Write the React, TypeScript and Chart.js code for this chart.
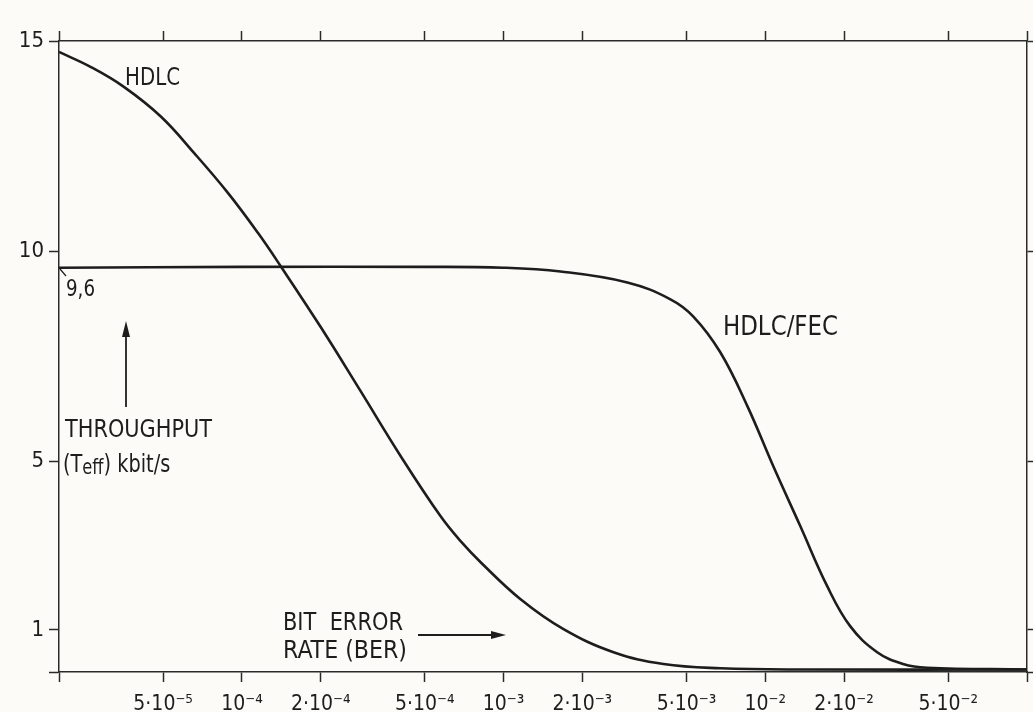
import React, { useEffect, useRef } from "react";
import { Chart, registerables } from "chart.js";

Chart.register(...registerables);

// ---- data ----
const xTickValues = [2e-5, 5e-5, 1e-4, 2e-4, 5e-4, 1e-3, 2e-3, 5e-3, 1e-2, 2e-2, 5e-2, 1e-1];
const xTickLabels = ["", "5·10⁻⁵", "10⁻⁴", "2·10⁻⁴", "5·10⁻⁴", "10⁻³", "2·10⁻³", "5·10⁻³", "10⁻²", "2·10⁻²", "5·10⁻²", ""];
const yTickValues = [0, 1, 5, 10, 15];
const yTickLabels = ["", "1", "5", "10", "15"];

const hdlcBer = [2.0e-5, 2.65e-5, 3.54e-5, 4.91e-5, 6.56e-5, 8.84e-5, 1.151e-4, 1.409e-4, 2.0e-4, 2.846e-4, 4.045e-4, 5.746e-4, 6.85e-4, 8.17e-4, 1.161e-3, 1.694e-3, 2.63e-3, 4.08e-3, 6.73e-3, 1.36e-2, 1e-1];
const hdlcThroughput = [14.74, 14.38, 13.91, 13.2, 12.34, 11.39, 10.44, 9.64, 8.2, 6.67, 5.13, 3.7, 3.11, 2.61, 1.73, 1.02, 0.47, 0.19, 0.09, 0.06, 0.06];

const fecBer = [2e-5, 1e-4, 5e-4, 1e-3, 1.65e-3, 2.97e-3, 4.34e-3, 5.31e-3, 6.73e-3, 8.54e-3, 1.073e-2, 1.36e-2, 1.724e-2, 2.11e-2, 2.676e-2, 3.36e-2, 4.15e-2, 1e-1];
const fecThroughput = [9.61, 9.63, 9.63, 9.61, 9.52, 9.26, 8.86, 8.45, 7.6, 6.32, 4.89, 3.47, 2.04, 1.09, 0.47, 0.19, 0.1, 0.06];

const INK = "#1d1d1d";
const AXIS = "#2a2a2a";
const BG = "#fcfbf8";
const FONT = "'DejaVu Sans Condensed', 'DejaVu Sans', sans-serif";

type Part = { t: string; size: number; dy?: number };

function drawRun(ctx: CanvasRenderingContext2D, parts: Part[], x: number, baseline: number, sx: number) {
  ctx.save();
  ctx.translate(x, baseline);
  ctx.scale(sx, 1);
  ctx.textBaseline = "alphabetic";
  ctx.textAlign = "left";
  let cx = 0;
  for (const p of parts) {
    ctx.font = `${p.size}px ${FONT}`;
    ctx.fillText(p.t, cx, p.dy || 0);
    cx += ctx.measureText(p.t).width;
  }
  ctx.restore();
}

function fitText(ctx: CanvasRenderingContext2D, s: string, x: number, baseline: number, size: number, width: number) {
  ctx.save();
  ctx.font = `${size}px ${FONT}`;
  const w = ctx.measureText(s).width;
  ctx.restore();
  drawRun(ctx, [{ t: s, size }], x, baseline, width / w);
}

const annotationPlugin = {
  id: "annotationsPlugin",
  beforeDraw(chart: any) {
    const ctx = chart.ctx as CanvasRenderingContext2D;
    ctx.save();
    ctx.fillStyle = BG;
    ctx.fillRect(0, 0, chart.width, chart.height);
    ctx.restore();
  },
  afterDraw(chart: any) {
    const ctx = chart.ctx as CanvasRenderingContext2D;
    ctx.save();
    ctx.fillStyle = INK;
    ctx.strokeStyle = INK;

    fitText(ctx, "HDLC", 125, 85, 24, 55);
    fitText(ctx, "HDLC/FEC", 723, 335, 26, 115);
    fitText(ctx, "9,6", 66, 296, 23, 29);

    // leader for 9,6
    ctx.lineWidth = 1.2;
    ctx.beginPath();
    ctx.moveTo(60, 269);
    ctx.lineTo(66, 276);
    ctx.stroke();

    // vertical arrow
    ctx.lineWidth = 1.8;
    ctx.beginPath();
    ctx.moveTo(126, 407);
    ctx.lineTo(126, 332);
    ctx.stroke();
    ctx.beginPath();
    ctx.moveTo(126, 321);
    ctx.lineTo(122, 337);
    ctx.lineTo(130, 337);
    ctx.closePath();
    ctx.fill();

    fitText(ctx, "THROUGHPUT", 65, 437, 25, 147);
    drawRun(
      ctx,
      [
        { t: "(T", size: 25 },
        { t: "eff", size: 21, dy: 2 },
        { t: ") kbit/s", size: 25 },
      ],
      63,
      472,
      0.86
    );

    fitText(ctx, "BIT  ERROR", 283, 630, 24, 120);
    fitText(ctx, "RATE (BER)", 283, 658, 24, 124);

    // horizontal arrow
    ctx.lineWidth = 1.8;
    ctx.beginPath();
    ctx.moveTo(418, 635);
    ctx.lineTo(494, 635);
    ctx.stroke();
    ctx.beginPath();
    ctx.moveTo(506, 635);
    ctx.lineTo(491, 631);
    ctx.lineTo(491, 639);
    ctx.closePath();
    ctx.fill();

    ctx.restore();
  },
};

function xAxis(position: "top" | "bottom", showLabels: boolean, size: number) {
  return {
    type: "logarithmic" as const,
    position,
    min: 2e-5,
    max: 1e-1,
    afterBuildTicks: (s: any) => {
      s.ticks = xTickValues.map((v) => ({ value: v }));
    },
    afterFit: (s: any) => {
      s.height = size;
      s.paddingLeft = 0;
      s.paddingRight = 0;
    },
    ticks: {
      display: showLabels,
      autoSkip: false,
      maxRotation: 0,
      minRotation: 0,
      padding: 10,
      color: INK,
      font: { family: FONT, size: 21 },
      callback: (_v: any, i: number) => xTickLabels[i],
    },
    grid: { drawOnChartArea: false, drawTicks: true, tickLength: 10, color: AXIS, tickWidth: 1.5 },
    border: { display: true, color: AXIS, width: 1.5 },
  };
}

function yAxis(position: "left" | "right", showLabels: boolean, size: number, tl: number) {
  return {
    type: "linear" as const,
    position,
    min: 0,
    max: 15,
    afterBuildTicks: (s: any) => {
      s.ticks = yTickValues.map((v) => ({ value: v }));
    },
    afterFit: (s: any) => {
      s.width = size;
      s.paddingTop = 0;
      s.paddingBottom = 0;
    },
    ticks: {
      display: showLabels,
      padding: 5,
      color: INK,
      font: { family: FONT, size: 22 },
      callback: (_v: any, i: number) => yTickLabels[i],
    },
    grid: { drawOnChartArea: false, drawTicks: true, tickLength: tl, color: AXIS, tickWidth: 1.5 },
    border: { display: true, color: AXIS, width: 1.5 },
  };
}

export default function App() {
  const canvasRef = useRef<HTMLCanvasElement | null>(null);

  useEffect(() => {
    if (!canvasRef.current) return;
    const lineStyle = {
      showLine: true,
      borderColor: INK,
      borderWidth: 2.6,
      pointRadius: 0,
      tension: 0.4,
      xAxisID: "x",
      yAxisID: "y",
    };
    const chart = new Chart(canvasRef.current, {
      type: "scatter",
      data: {
        datasets: [
          {
            label: "HDLC",
            data: hdlcBer.map((x, i) => ({ x, y: hdlcThroughput[i] })),
            ...lineStyle,
          },
          {
            label: "HDLC/FEC",
            data: fecBer.map((x, i) => ({ x, y: fecThroughput[i] })),
            ...lineStyle,
          },
        ],
      },
      options: {
        animation: false,
        responsive: true,
        maintainAspectRatio: false,
        layout: { padding: 0 },
        plugins: { legend: { display: false }, tooltip: { enabled: false }, title: { display: false } },
        scales: {
          x: xAxis("bottom", true, 40),
          xTop: xAxis("top", false, 41),
          y: yAxis("left", true, 59, 10),
          yRight: yAxis("right", false, 6, 7),
        },
      } as any,
      plugins: [annotationPlugin],
    });
    return () => chart.destroy();
  }, []);

  return (
    <div style={{ position: "fixed", left: 0, top: 0, width: 1033, height: 712, background: BG }}>
      <canvas ref={canvasRef} />
    </div>
  );
}
